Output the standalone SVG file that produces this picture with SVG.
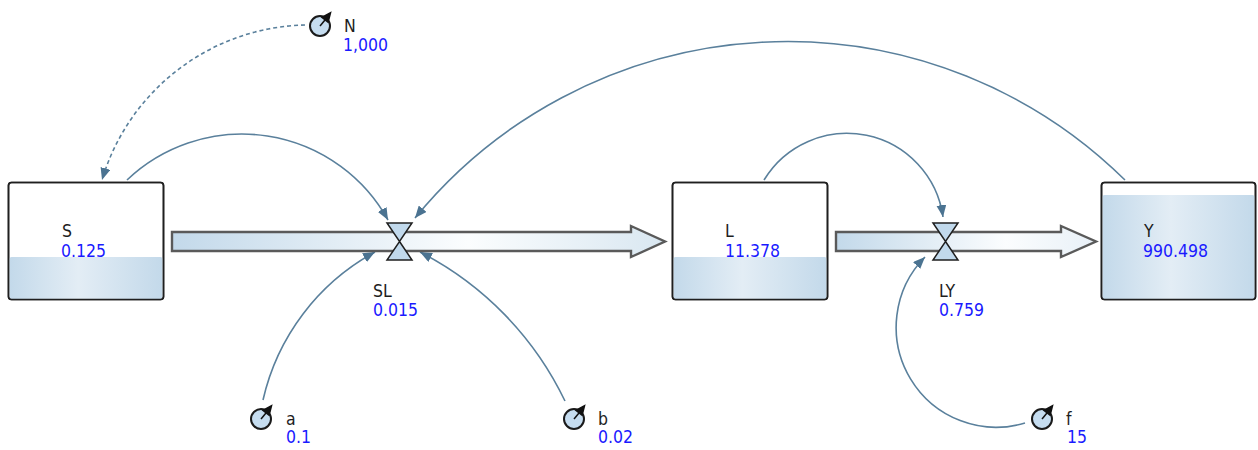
<svg xmlns="http://www.w3.org/2000/svg" width="1258" height="450" viewBox="0 0 1258 450">
<defs>
<linearGradient id="water" x1="0" y1="0" x2="1" y2="0">
<stop offset="0" stop-color="#c3d9ea"/>
<stop offset="0.45" stop-color="#e3edf5"/>
<stop offset="1" stop-color="#c3d9ea"/>
</linearGradient>
<linearGradient id="pipe1" gradientUnits="userSpaceOnUse" x1="172" y1="0" x2="665" y2="0">
<stop offset="0" stop-color="#c3d9ea"/>
<stop offset="0.6" stop-color="#fbfdfe"/>
<stop offset="1" stop-color="#d9e7f1"/>
</linearGradient>
<linearGradient id="pipe2" gradientUnits="userSpaceOnUse" x1="836" y1="0" x2="1097" y2="0">
<stop offset="0" stop-color="#c3d9ea"/>
<stop offset="0.65" stop-color="#fbfdfe"/>
<stop offset="1" stop-color="#e8f0f7"/>
</linearGradient>
<marker id="arr" markerUnits="userSpaceOnUse" markerWidth="13" markerHeight="10" refX="12" refY="5" orient="auto">
<path d="M0,0 L12,5 L0,10 z" fill="#4b7391"/>
</marker>
</defs>
<style>
.box{fill:#ffffff;stroke:#1f1f1f;stroke-width:1.6}
.water{fill:url(#water)}
.pipe{stroke:#5a5a5a;stroke-width:2.4;stroke-linejoin:miter}
.valve{fill:#c1d9ec;stroke:#1f1f1f;stroke-width:1.5;stroke-linejoin:miter}
.aux{fill:#c6ddf0;stroke:#1a1a1a;stroke-width:2}
.needle{fill:#111;stroke:#111;stroke-width:1.5}
.name{font-family:"DejaVu Sans Condensed","Liberation Sans",sans-serif;font-size:17.5px;fill:#1e1e1e}
.val{font-family:"DejaVu Sans Condensed","Liberation Sans",sans-serif;font-size:17.5px;fill:#1a1aff}
.link{fill:none;stroke:#5a809c;stroke-width:1.6;marker-end:url(#arr)}
.dash{stroke-dasharray:4 3}
</style>

<g id="connectors">
<path class="link dash" d="M305,25 A217,217 0 0 0 102,180"/>
<path class="link" d="M127,180 A167,167 0 0 1 388,220"/>
<path class="link" d="M1125,180 A481,481 0 0 0 415,218"/>
<path class="link" d="M764,180 A97,97 0 0 1 943,217"/>
<path class="link" d="M263,400 A225,225 0 0 1 375,252"/>
<path class="link" d="M565,401 A326,326 0 0 0 420,252"/>
<path class="link" d="M1025,423 A100,100 0 0 1 925,257"/>
</g>

<g id="flow-SL-pipe">
<path class="pipe" fill="url(#pipe1)" d="M172,232 H631 V226 L665,241.5 L631,257 V251 H172 Z"/>
</g>
<g id="flow-LY-pipe">
<path class="pipe" fill="url(#pipe2)" d="M836,232 H1061 V226 L1096,241.5 L1061,257 V251 H836 Z"/>
</g>

<g id="S">
<rect class="box" x="8.5" y="182.5" width="155" height="117" rx="3"/>
<rect class="water" x="9.5" y="257" width="153" height="42" rx="2"/>
<rect x="8.5" y="182.5" width="155" height="117" rx="3" fill="none" stroke="#1f1f1f" stroke-width="1.6"/>
<text class="name" x="62" y="237">S</text>
<text class="val" x="61" y="257">0.125</text>
</g>

<g id="L">
<rect class="box" x="672.5" y="182.5" width="155" height="117" rx="3"/>
<rect class="water" x="673.5" y="257" width="153" height="42" rx="2"/>
<rect x="672.5" y="182.5" width="155" height="117" rx="3" fill="none" stroke="#1f1f1f" stroke-width="1.6"/>
<text class="name" x="725" y="237">L</text>
<text class="val" x="725" y="257">11.378</text>
</g>

<g id="Y">
<rect class="box" x="1101.5" y="182.5" width="154" height="117" rx="3"/>
<rect class="water" x="1102.5" y="195" width="152" height="104" rx="2"/>
<rect x="1101.5" y="182.5" width="154" height="117" rx="3" fill="none" stroke="#1f1f1f" stroke-width="1.6"/>
<text class="name" x="1144" y="237">Y</text>
<text class="val" x="1143" y="257">990.498</text>
</g>

<g id="SL">
<path class="valve" d="M387,223 H412 L399.5,241.5 Z M399.5,241.5 L412,260 H387 Z"/>
<text class="name" x="373" y="297">SL</text>
<text class="val" x="373" y="316">0.015</text>
</g>

<g id="LY">
<path class="valve" d="M933,223 H958 L945.5,241.5 Z M945.5,241.5 L958,260 H933 Z"/>
<text class="name" x="939" y="297">LY</text>
<text class="val" x="939" y="316">0.759</text>
</g>

<g id="N">
<circle class="aux" cx="320" cy="26" r="10"/>
<line class="needle" x1="320" y1="26" x2="325" y2="20"/>
<polygon class="needle" points="330.5,12.7 328.1,22.3 321.9,17.3"/>
<text class="name" x="344" y="32">N</text>
<text class="val" x="343" y="51">1,000</text>
</g>

<g id="a">
<circle class="aux" cx="261" cy="419" r="10"/>
<line class="needle" x1="261" y1="419" x2="266" y2="413"/>
<polygon class="needle" points="271.5,405.7 269.1,415.3 262.9,410.3"/>
<text class="name" x="286" y="425">a</text>
<text class="val" x="286" y="443">0.1</text>
</g>

<g id="b">
<circle class="aux" cx="574" cy="419" r="10"/>
<line class="needle" x1="574" y1="419" x2="579" y2="413"/>
<polygon class="needle" points="584.5,405.7 582.1,415.3 575.9,410.3"/>
<text class="name" x="598" y="425">b</text>
<text class="val" x="598" y="443">0.02</text>
</g>

<g id="f">
<circle class="aux" cx="1042" cy="419" r="10"/>
<line class="needle" x1="1042" y1="419" x2="1047" y2="413"/>
<polygon class="needle" points="1052.5,405.7 1050.1,415.3 1043.9,410.3"/>
<text class="name" x="1066" y="425">f</text>
<text class="val" x="1067" y="443">15</text>
</g>
</svg>
